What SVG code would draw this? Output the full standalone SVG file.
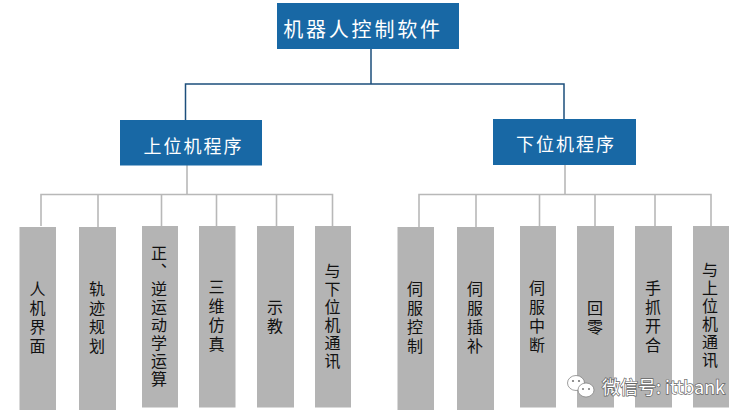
<svg xmlns="http://www.w3.org/2000/svg" width="750" height="420" viewBox="0 0 750 420">
<style>
text{font-family:"Noto Sans CJK SC","Noto Sans",sans-serif;text-anchor:middle}
.blue{fill:#1868a5}
.gray{fill:#b4b4b4}
.title{fill:#fff;font-size:20px;letter-spacing:2.8px;dominant-baseline:central}
.sub{fill:#fff;font-size:18px;letter-spacing:2px;dominant-baseline:central}
.leaf{fill:#111;font-size:16px;letter-spacing:2px;writing-mode:vertical-rl}
.wide{letter-spacing:3px}
.dark{fill:none;stroke:#1d4f7c;stroke-width:1.5}
.soft{fill:none;stroke:#b8b8b8;stroke-width:1.6}
.mark{fill:#fff;stroke:#777;stroke-width:.7}
.marktext{fill:#fff;font-size:18px;text-anchor:start;dominant-baseline:central;stroke:#666;stroke-width:1.4px;paint-order:stroke}
</style>
<g id="connectors">
<path class="dark" d="M371 49V84M185.500 120V84H564V119"/>
<path class="soft" d="M187 165V194.500M41 226V194.500H332.500V226M98 194.500V227M161.500 194.500V226M216.500 194.500V226M276.500 194.500V226"/>
<path class="soft" d="M565 165V194.500M419 227V194.500H711V226M476 194.500V227M539.500 194.500V226M595 194.500V226M655 194.500V226"/>
</g>
<g id="root"><rect class="blue" x="277" y="3" width="182" height="46"/><text class="title" x="363" y="28">机器人控制软件</text></g>
<g id="upper"><rect class="blue" x="120" y="120" width="142" height="45.500"/><text class="sub" x="193.500" y="145">上位机程序</text></g>
<g id="lower"><rect class="blue" x="493" y="119" width="143" height="46"/><text class="sub" x="566" y="143">下位机程序</text></g>
<g id="u1"><rect class="gray" x="19.500" y="227" width="36.500" height="183"/><text class="leaf wide" x="37.500" y="319">人机界面</text></g>
<g id="u2"><rect class="gray" x="79" y="227" width="37" height="183"/><text class="leaf wide" x="97" y="319">轨迹规划</text></g>
<g id="u3"><rect class="gray" x="142" y="226" width="36" height="181.500"/><text class="leaf" x="159" y="317">正、逆运动学运算</text></g>
<g id="u4"><rect class="gray" x="199" y="226" width="36.500" height="181.500"/><text class="leaf wide" x="216.500" y="317">三维仿真</text></g>
<g id="u5"><rect class="gray" x="257" y="226" width="37" height="181.500"/><text class="leaf wide" x="275" y="318">示教</text></g>
<g id="u6"><rect class="gray" x="315" y="226" width="36" height="181.500"/><text class="leaf" x="332.500" y="316.500">与下位机通讯</text></g>
<g id="d1"><rect class="gray" x="397.500" y="227" width="36.500" height="183"/><text class="leaf wide" x="415" y="319">伺服控制</text></g>
<g id="d2"><rect class="gray" x="457" y="227" width="37" height="183"/><text class="leaf wide" x="475" y="319">伺服插补</text></g>
<g id="d3"><rect class="gray" x="520" y="226" width="36" height="181.500"/><text class="leaf wide" x="537" y="318">伺服中断</text></g>
<g id="d4"><rect class="gray" x="577" y="226" width="37" height="181.500"/><text class="leaf wide" x="595" y="319">回零</text></g>
<g id="d5"><rect class="gray" x="635" y="226" width="37" height="181.500"/><text class="leaf wide" x="653" y="318">手抓开合</text></g>
<g id="d6"><rect class="gray" x="693" y="226" width="36" height="181.500"/><text class="leaf" x="710" y="316">与上位机通讯</text></g>
<g id="watermark">
<ellipse class="mark" cx="576" cy="383" rx="8.500" ry="7.500"/>
<ellipse class="mark" cx="586" cy="390" rx="8" ry="7"/>
<circle cx="573" cy="381" r="1.100" fill="#777"/><circle cx="579" cy="381" r="1.100" fill="#777"/>
<circle cx="583" cy="389" r="1" fill="#777"/><circle cx="589" cy="389" r="1" fill="#777"/>
<text class="marktext" x="602" y="386">微信号: ittbank</text>
</g>
</svg>
